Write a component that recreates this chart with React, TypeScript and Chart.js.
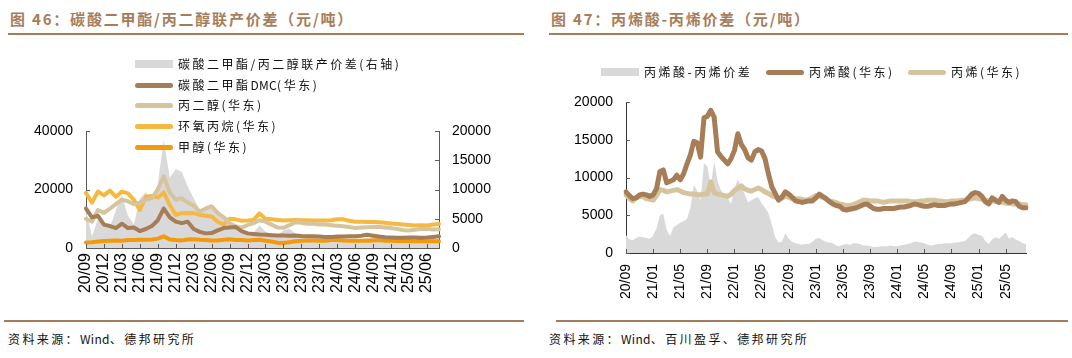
import React, { useEffect, useRef } from "react";
import { Chart, registerables } from "chart.js";

Chart.register(...registerables);

// ---------- categories ----------
function monthLabels(startYear: number, startMonth: number, months: number, perMonth: number): string[] {
  const out: string[] = [];
  for (let k = 0; k < months; k++) {
    const m0 = startMonth - 1 + k;
    const y = startYear + Math.floor(m0 / 12);
    const m = (m0 % 12) + 1;
    const s = String(y % 100).padStart(2, "0") + "/" + String(m).padStart(2, "0");
    for (let p = 0; p < perMonth; p++) out.push(s);
  }
  return out;
}

// Left chart: monthly, 2020/09 .. 2025/08
const leftCategories = monthLabels(2020, 9, 60, 1);
const leftTickEvery = 3;
// Right chart: semi-monthly, 2020/09 .. 2025/08
const rightCategories = monthLabels(2020, 9, 60, 2).slice(0, 119);
const rightTickEvery = 8;

// ---------- left chart series ----------
const spreadDmcPg = [
  6500, 2000, 5000, 4500, 3500, 6500, 9000, 5500, 4000, 8500,
  9500, 8000, 11000, 18500, 12000, 13500, 13000, 10500, 8500, 6500,
  7000, 7500, 6000, 5000, 4200, 3500, 2600, 2800, 2600, 3900,
  2800, 2300, 2200, 3000, 3300, 2500, 2200, 2000, 2000, 1800,
  1700, 1700, 1600, 1600, 1600, 1500, 1500, 1700, 1800, 1700,
  1600, 1500, 1400, 1300, 1400, 1500, 1400, 1400, 1500, 1600,
];
const dmcPrice = [
  13500, 10500, 11000, 8000, 7500, 6800, 8300, 6800, 7000, 5800,
  6500, 7500, 9500, 13500, 10500, 9000, 8500, 9000, 6500, 5500,
  5000, 5100, 6000, 6800, 7000, 7200, 5800, 5000, 4800, 4600,
  4500, 4400, 4300, 4300, 4200, 4300, 4100, 4000, 4000, 3900,
  3800, 3800, 3900, 3900, 4000, 4000, 4200, 4500, 4200, 3900,
  3700, 3600, 3500, 3500, 3600, 3600, 3500, 3600, 3800, 4000,
];
const pgPrice = [
  10000, 9000, 13000, 12000, 13500, 15000, 16500, 16000, 15000, 15500,
  16500, 17000, 20000, 24500, 19000, 16500, 17000, 15500, 14500, 12500,
  13500, 14200, 12000, 10500, 8500, 7400, 7000, 7800, 8500, 9500,
  9000, 8000, 7000, 6900, 7800, 8800, 8600, 8300, 8300, 8000,
  8000, 7800, 7600, 7400, 7200, 6800, 7000, 7100, 7200, 7300,
  7000, 6800, 6500, 6100, 6000, 6200, 6500, 6600, 6300, 6400,
];
const poPrice = [
  18800, 15500, 19300, 18000, 19600, 17500, 19300, 18700, 16500, 13000,
  17500, 17800, 17200, 19000, 14700, 11300, 11900, 12000, 11900, 11300,
  11000, 10800, 9000, 8000, 10000, 9800, 9300, 9400, 9600, 11800,
  10000, 9800, 9600, 9400, 9500, 9600, 9500, 9500, 9400, 9400,
  9400, 9500, 9800, 9800, 9300, 9000, 9000, 8900, 8900, 8800,
  8600, 8400, 8200, 8000, 7900, 7700, 7800, 7700, 8000, 8200,
];
const methanolPrice = [
  1900, 2000, 2200, 2400, 2500, 2600, 2500, 2700, 2700, 2800,
  2800, 2900, 3200, 4000, 2900, 2700, 2600, 2900, 3000, 2800,
  2700, 2600, 2600, 2800, 3000, 2700, 2700, 2600, 2700, 2800,
  2500, 2200, 1800, 1700, 2000, 2300, 2500, 2600, 2600, 2500,
  2500, 2700, 2700, 2600, 2500, 2500, 2500, 2500, 2600, 2700,
  2500, 2500, 2400, 2400, 2400, 2300, 2400, 2300, 2300, 2300,
];

// ---------- right chart series ----------
const acrylicSpread = [
  2400, 1800, 1700, 2000, 2200, 2100, 2000, 1900, 2300, 3200,
  5000, 5200, 3000, 2300, 3400, 3700, 4000, 4200, 4500, 6000,
  9000, 8200, 7000, 11900, 11500, 8800, 12200, 9500, 8300, 7800,
  7300, 6500, 8600, 9700, 8800, 7800, 6700, 7000, 7300, 7400,
  6600, 6000, 5300, 3800, 2100, 1400, 1500, 2600, 1900, 1500,
  1300, 1200, 1100, 1200, 1200, 1500, 1900, 2000, 1700, 1500,
  1400, 1300, 1000, 900, 1100, 1200, 1100, 1300, 1300, 1200,
  1000, 1000, 900, 800, 800, 900, 900, 900, 1000, 900,
  900, 1000, 1100, 1200, 1300, 1500, 1500, 1400, 1300, 1100,
  1000, 1100, 1200, 1200, 1300, 1300, 1300, 1400, 1400, 1500,
  1600, 2000, 2500, 2600, 2400, 2300, 1600, 1200, 1800, 2100,
  1900, 2300, 2700, 1900, 2100, 1800, 1600, 1300, 1200,
];
const acrylicPrice = [
  8100, 7600, 7200, 7300, 7700, 7800, 7700, 7500, 7700, 8500,
  10800, 11000, 9300, 9500, 9700, 10300, 9700, 10500, 11800, 13000,
  14800, 14600, 12700, 17900, 18100, 18900, 18000, 13400, 12800, 12300,
  11800, 12500, 13600, 15800, 14400, 13700, 12600, 12300, 13400, 13700,
  13500, 12500, 10500, 8800, 7900, 7000, 7400, 8100, 7800, 7400,
  6900, 6800, 6700, 6800, 6900, 6900, 7300, 7800, 7500, 7200,
  6800, 6500, 6300, 6200, 5800, 5700, 5800, 5900, 6000, 6200,
  6400, 6500, 6200, 5900, 5800, 5800, 5900, 5900, 5900, 5900,
  6000, 6100, 6100, 6200, 6300, 6500, 6400, 6300, 6200, 6200,
  6300, 6400, 6300, 6300, 6300, 6400, 6500, 6500, 6600, 6700,
  6800, 7300, 7800, 8000, 7900, 7500, 6800, 6500, 7300, 7000,
  6700, 7500, 7000, 6700, 6900, 6800, 6200, 6000, 6000,
];
const propylenePrice = [
  7700, 7200, 6900, 7300, 7500, 7500, 7200, 7100, 7000, 7600,
  8400, 8300, 8100, 8200, 8300, 8400, 8200, 8000, 7900, 7800,
  7800, 7700, 7700, 7800, 7800, 9400, 8000, 7800, 7700, 7600,
  7500, 7800, 8300, 8600, 8900, 8500, 8300, 8200, 8400, 8600,
  8400, 8100, 7900, 7600, 7400, 7300, 7300, 7500, 7400, 7200,
  7200, 7200, 7100, 7000, 7100, 7300, 7600, 7500, 7400, 7200,
  6900, 6800, 6700, 6500, 6400, 6300, 6300, 6400, 6600, 6800,
  7000, 7000, 6900, 6900, 6900, 6800, 6700, 6800, 6900, 6900,
  6900, 6900, 6900, 6900, 6800, 6800, 6800, 6900, 6900, 7000,
  7000, 7000, 6900, 6900, 6800, 6800, 6900, 6900, 6900, 7000,
  7000, 7100, 7200, 7300, 7200, 7100, 7000, 6900, 6900, 6800,
  6800, 6700, 6600, 6600, 6500, 6500, 6500, 6400, 6400,
];

// ---------- styles ----------
const BROWN = "#A67D57";
const TAN = "#D6C49E";
const YELLOW = "#F5B942";
const ORANGE = "#F39A0C";
const GREY = "#D9D9D9";
const TITLE = "#A67D5B";
const AXIS = "#5A5A5A";
const CJK = '"Noto Sans CJK SC", "Noto Sans", sans-serif';
const LATIN = '"Liberation Sans", Arial, sans-serif';

const plainNumber = (v: any) => String(v);

const inwardTicks = {
  id: "inwardTicks",
  afterDatasetsDraw(chart: any) {
    const ctx = chart.ctx;
    const ca = chart.chartArea;
    ctx.save();
    ctx.strokeStyle = AXIS;
    ctx.lineWidth = 1;
    Object.values(chart.scales).forEach((scale: any) => {
      scale.ticks.forEach((t: any, i: number) => {
        if (t.label === null || t.label === undefined || t.label === "") return;
        const p = Math.round(scale.getPixelForTick(i)) + 0.5;
        ctx.beginPath();
        if (scale.axis === "x") {
          ctx.moveTo(p, ca.bottom);
          ctx.lineTo(p, ca.bottom - 4);
        } else if (scale.position === "left") {
          ctx.moveTo(ca.left, p);
          ctx.lineTo(ca.left + 4, p);
        } else {
          ctx.moveTo(ca.right, p);
          ctx.lineTo(ca.right - 4, p);
        }
        ctx.stroke();
      });
    });
    ctx.restore();
  },
};

function lineDs(label: string, data: number[], color: string, width: number, axis = "y") {
  return {
    type: "line" as const,
    label,
    data,
    borderColor: color,
    backgroundColor: color,
    borderWidth: width,
    pointRadius: 0,
    tension: 0,
    borderCapStyle: "round" as const,
    borderJoinStyle: "round" as const,
    fill: false,
    yAxisID: axis,
    order: 1,
  };
}

function areaDs(label: string, data: number[], axis: string) {
  return {
    type: "line" as const,
    label,
    data,
    borderColor: GREY,
    backgroundColor: GREY,
    borderWidth: 0,
    pointRadius: 0,
    tension: 0,
    fill: "origin",
    yAxisID: axis,
    order: 10,
  };
}

const LeftLegend = [
  { label: "碳酸二甲酯/丙二醇联产价差(右轴)", color: GREY, box: true },
  { label: "碳酸二甲酯DMC(华东)", color: BROWN, box: false },
  { label: "丙二醇(华东)", color: TAN, box: false },
  { label: "环氧丙烷(华东)", color: YELLOW, box: false },
  { label: "甲醇(华东)", color: ORANGE, box: false },
];
const RightLegend = [
  { label: "丙烯酸-丙烯价差", color: GREY, box: true, x: 601 },
  { label: "丙烯酸(华东)", color: BROWN, box: false, x: 766 },
  { label: "丙烯(华东)", color: TAN, box: false, x: 908 },
];

// spaced CJK text; Latin runs are kept tight
function Spaced({ text, spacing }: { text: string; spacing: number }) {
  const parts = text.match(/[A-Za-z0-9]+|[^A-Za-z0-9]+/g) || [];
  return (
    <>
      {parts.map((p, k) => (
        <span key={k} style={{ letterSpacing: /[A-Za-z0-9]/.test(p) ? "0.3px" : `${spacing}px` }}>{p}</span>
      ))}
    </>
  );
}

function Symbol({ color, box }: { color: string; box: boolean }) {
  return (
    <span
      style={{
        display: "inline-block",
        width: 38,
        height: box ? 8 : 5,
        borderRadius: box ? 0 : 3,
        background: color,
        marginRight: 5,
        verticalAlign: "middle",
      }}
    />
  );
}

const legendText: React.CSSProperties = {
  fontFamily: CJK,
  fontSize: 12,
  color: "#111",
  whiteSpace: "nowrap",
  verticalAlign: "middle",
};

export default function App() {
  const leftRef = useRef<HTMLCanvasElement>(null);
  const rightRef = useRef<HTMLCanvasElement>(null);

  useEffect(() => {
    const c1 = new Chart(leftRef.current as HTMLCanvasElement, {
      type: "line",
      data: {
        labels: leftCategories,
        datasets: [
          areaDs("碳酸二甲酯/丙二醇联产价差(右轴)", spreadDmcPg, "y1"),
          lineDs("碳酸二甲酯DMC(华东)", dmcPrice, BROWN, 4),
          lineDs("丙二醇(华东)", pgPrice, TAN, 4),
          lineDs("环氧丙烷(华东)", poPrice, YELLOW, 4),
          lineDs("甲醇(华东)", methanolPrice, ORANGE, 4),
        ] as any,
      },
      options: {
        animation: false,
        responsive: false,
        layout: { padding: { top: 131, left: 0, right: 0, bottom: 0 } },
        plugins: { legend: { display: false }, tooltip: { enabled: false } },
        scales: {
          x: {
            type: "category",
            offset: false,
            grid: { display: true, drawOnChartArea: false, drawTicks: false },
            border: { display: true, color: AXIS },
            ticks: {
              autoSkip: false,
              minRotation: 90,
              maxRotation: 90,
              padding: 5,
              color: "#000",
              font: { family: LATIN, size: 16 },
              callback: (v: any, i: number) => (i % leftTickEvery === 0 ? leftCategories[i] : null),
            },
            afterFit: (s: any) => { s.height = 72; },
          },
          y: {
            position: "left",
            min: 0,
            max: 40000,
            grid: { display: true, drawOnChartArea: false, drawTicks: false },
            border: { display: true, color: AXIS },
            ticks: { stepSize: 20000, padding: 13, color: "#000", font: { family: LATIN, size: 14 }, callback: plainNumber },
            afterFit: (s: any) => { s.width = 86; },
          },
          y1: {
            position: "right",
            min: 0,
            max: 20000,
            grid: { display: true, drawOnChartArea: false, drawTicks: false },
            border: { display: true, color: AXIS },
            ticks: { stepSize: 5000, padding: 13, color: "#000", font: { family: LATIN, size: 14 }, callback: plainNumber },
            afterFit: (s: any) => { s.width = 97; },
          },
        },
      } as any,
      plugins: [inwardTicks],
    });

    const c2 = new Chart(rightRef.current as HTMLCanvasElement, {
      type: "line",
      data: {
        labels: rightCategories,
        datasets: [
          areaDs("丙烯酸-丙烯价差", acrylicSpread, "y"),
          lineDs("丙烯酸(华东)", acrylicPrice, BROWN, 5),
          lineDs("丙烯(华东)", propylenePrice, TAN, 5),
        ] as any,
      },
      options: {
        animation: false,
        responsive: false,
        layout: { padding: { top: 102, left: 0, right: 46, bottom: 0 } },
        plugins: { legend: { display: false }, tooltip: { enabled: false } },
        scales: {
          x: {
            type: "category",
            offset: false,
            grid: { display: true, drawOnChartArea: false, drawTicks: false },
            border: { display: true, color: "#333" },
            ticks: {
              autoSkip: false,
              minRotation: 90,
              maxRotation: 90,
              padding: 11,
              color: "#000",
              font: { family: LATIN, size: 14 },
              callback: (v: any, i: number) => (i % rightTickEvery === 0 ? rightCategories[i] : null),
            },
            afterFit: (s: any) => { s.height = 67; },
          },
          y: {
            position: "left",
            min: 0,
            max: 20000,
            grid: { display: true, drawOnChartArea: false, drawTicks: false },
            border: { display: true, color: "#333" },
            ticks: { stepSize: 5000, padding: 13, color: "#000", font: { family: LATIN, size: 14 }, callback: plainNumber },
            afterFit: (s: any) => { s.width = 90; },
          },
        },
      } as any,
      plugins: [inwardTicks],
    });

    return () => {
      c1.destroy();
      c2.destroy();
    };
  }, []);

  const titleStyle: React.CSSProperties = {
    position: "absolute",
    top: 8,
    fontFamily: CJK,
    fontWeight: 700,
    fontSize: 15,
    letterSpacing: "1.8px",
    color: TITLE,
    whiteSpace: "nowrap",
    lineHeight: "22px",
  };
  const sourceStyle: React.CSSProperties = {
    position: "absolute",
    top: 330,
    fontFamily: CJK,
    fontSize: 12,
    color: "#111",
    whiteSpace: "nowrap",
    lineHeight: "18px",
  };

  return (
    <div style={{ position: "absolute", left: 0, top: 0, width: 1072, height: 358, background: "#fff", overflow: "hidden" }}>
      <div style={{ ...titleStyle, left: 10 }}>图 46：碳酸二甲酯/丙二醇联产价差（元/吨）</div>
      <div style={{ ...titleStyle, left: 551 }}>图 47：丙烯酸-丙烯价差（元/吨）</div>
      <div style={{ position: "absolute", left: 8, top: 33, width: 516, height: 2, background: TITLE }} />
      <div style={{ position: "absolute", left: 549, top: 33, width: 519, height: 2, background: TITLE }} />

      <canvas ref={leftRef} width={536} height={320} style={{ position: "absolute", left: 0, top: 0 }} />
      <canvas ref={rightRef} width={536} height={320} style={{ position: "absolute", left: 536, top: 0 }} />

      {LeftLegend.map((it, k) => (
        <div key={it.label} style={{ position: "absolute", left: 135, top: 63 + k * 20.7 - 9, height: 18, lineHeight: "18px", whiteSpace: "nowrap" }}>
          <Symbol color={it.color} box={it.box} />
          <span style={legendText}><Spaced text={it.label} spacing={2.5} /></span>
        </div>
      ))}
      {RightLegend.map((it) => (
        <div key={it.label} style={{ position: "absolute", left: it.x, top: 71 - 9, height: 18, lineHeight: "18px", whiteSpace: "nowrap" }}>
          <Symbol color={it.color} box={it.box} />
          <span style={legendText}><Spaced text={it.label} spacing={2.5} /></span>
        </div>
      ))}

      <div style={{ position: "absolute", left: 4, top: 320, width: 520, height: 2, background: TITLE }} />
      <div style={{ position: "absolute", left: 556, top: 320, width: 512, height: 2, background: TITLE }} />
      <div style={{ ...sourceStyle, left: 8 }}><Spaced text="资料来源：Wind、德邦研究所" spacing={2.4} /></div>
      <div style={{ ...sourceStyle, left: 549 }}><Spaced text="资料来源：Wind、百川盈孚、德邦研究所" spacing={2.4} /></div>
    </div>
  );
}
